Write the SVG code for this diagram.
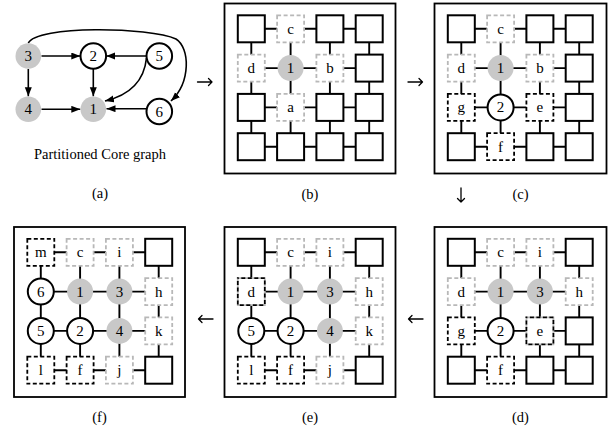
<svg xmlns="http://www.w3.org/2000/svg" xmlns:xlink="http://www.w3.org/1999/xlink" width="611" height="430" viewBox="0 0 611 430">
<style>
.frame{fill:none;stroke:#000;stroke-width:1.8}
.sq{fill:#fff;stroke:#000;stroke-width:2}
.gd{fill:#fff;stroke:#b8b8b8;stroke-width:1.8;stroke-dasharray:4 2.5}
.bd{fill:#fff;stroke:#000;stroke-width:1.8;stroke-dasharray:4 2.5}
.bdo{fill:none;stroke:#000;stroke-width:1.8;stroke-dasharray:4 2.5;stroke-dashoffset:3}
.gc{fill:#c8c8c8}
.wc{fill:#fff;stroke:#000;stroke-width:2}
.mesh{fill:none;stroke:#000;stroke-width:1.9}
.edge{fill:none;stroke:#000;stroke-width:1.6}
.step{fill:none;stroke:#000;stroke-width:1.3;stroke-linecap:round;stroke-linejoin:round}
.t{font-family:"Liberation Serif","Times New Roman",serif;font-size:15px;text-anchor:middle;fill:#000}
.cap{font-family:"Liberation Serif","Times New Roman",serif;font-size:14.5px;text-anchor:middle;fill:#000}
</style>
<defs>
<marker id="ah" markerUnits="userSpaceOnUse" markerWidth="10" markerHeight="8" refX="9" refY="3.5" orient="auto">
<path d="M0,0 L9,3.5 L0,7 z" fill="#000"/>
</marker>
<path id="meshp" class="mesh" d="M26.8,25.3H144.7M26.8,64.6H144.7M26.8,103.9H144.7M26.8,143.2H144.7M26.8,25.3V143.2M66.1,25.3V143.2M105.4,25.3V143.2M144.7,25.3V143.2"/>
<rect id="s" class="sq" width="27" height="27"/>
</defs>
<rect width="611" height="430" fill="#fff"/>

<g id="frames">
<rect class="frame" x="224.5" y="3.5" width="171" height="170"/>
<rect class="frame" x="434.5" y="3.5" width="172" height="170"/>
<rect class="frame" x="434.5" y="227" width="172" height="170"/>
<rect class="frame" x="224.5" y="227" width="171" height="170"/>
<rect class="frame" x="14" y="227" width="171" height="170"/>
</g>

<g id="connectors">
<use xlink:href="#meshp" transform="translate(224.5,3.5)"/>
<use xlink:href="#meshp" transform="translate(434.5,3.5)"/>
<use xlink:href="#meshp" transform="translate(434.5,227)"/>
<use xlink:href="#meshp" transform="translate(224.5,227)"/>
<use xlink:href="#meshp" transform="translate(14,227)"/>
<path class="edge" marker-end="url(#ah)" d="M41.5,56 L80.3,56"/>
<path class="edge" marker-end="url(#ah)" d="M146.3,56 L106.3,56"/>
<path class="edge" marker-end="url(#ah)" d="M93.3,69 L93.3,96.3"/>
<path class="edge" marker-end="url(#ah)" d="M28.3,69 L28.3,96.3"/>
<path class="edge" marker-end="url(#ah)" d="M41.5,109.3 L80.3,109.3"/>
<path class="edge" marker-end="url(#ah)" d="M146.5,108.7 L106.5,108.7"/>
<path class="edge" marker-end="url(#ah)" d="M146.5,58 Q143,92 105,101"/>
<path class="edge" marker-end="url(#ah)" d="M28.3,43.2 C36,25 150,27 176,39 C190,48 191,82 171,101"/>
<path class="step" d="M197.5,82 H212 M208.5,78.5 L212,82 L208.5,85.5"/>
<path class="step" d="M408,82 H422.5 M419,78.5 L422.5,82 L419,85.5"/>
<path class="step" d="M461,188 V202 M457.5,198.5 L461,202 L464.5,198.5"/>
<path class="step" d="M423,319 H408.5 M412,315.5 L408.5,319 L412,322.5"/>
<path class="step" d="M213,319 H198.5 M202,315.5 L198.5,319 L202,322.5"/>
</g>

<g id="graph-a">
<g id="a3"><circle class="gc" cx="28.3" cy="56" r="12.8"/><text class="t" x="28.3" y="61">3</text></g>
<g id="a2"><circle class="wc" cx="93.3" cy="56" r="12.8"/><text class="t" x="93.3" y="61">2</text></g>
<g id="a5"><circle class="wc" cx="159.3" cy="56" r="12.8"/><text class="t" x="159.3" y="61">5</text></g>
<g id="a4"><circle class="gc" cx="28.3" cy="109.3" r="12.8"/><text class="t" x="28.3" y="114.3">4</text></g>
<g id="a1"><circle class="gc" cx="93.3" cy="109.3" r="12.8"/><text class="t" x="93.3" y="114.3">1</text></g>
<g id="a6"><circle class="wc" cx="159.3" cy="111.5" r="12.8"/><text class="t" x="159.3" y="116.5">6</text></g>
<text class="cap" x="100" y="159">Partitioned Core graph</text>
</g>

<g id="panel-b" transform="translate(224.5,3.5)">
<use xlink:href="#s" x="13.3" y="11.8"/>
<g id="b-c"><rect class="gd" x="52.6" y="11.8" width="27" height="27"/><text class="t" x="66.1" y="30.3">c</text></g>
<use xlink:href="#s" x="91.9" y="11.8"/>
<use xlink:href="#s" x="131.2" y="11.8"/>
<g id="b-d"><rect class="gd" x="13.3" y="51.1" width="27" height="27"/><text class="t" x="26.8" y="69.6">d</text></g>
<g id="b-1"><circle class="gc" cx="66.1" cy="64.6" r="13"/><text class="t" x="66.1" y="69.6">1</text></g>
<g id="b-b"><rect class="gd" x="91.9" y="51.1" width="27" height="27"/><text class="t" x="105.4" y="69.6">b</text></g>
<use xlink:href="#s" x="131.2" y="51.1"/>
<use xlink:href="#s" x="13.3" y="90.4"/>
<g id="b-a"><rect class="gd" x="52.6" y="90.4" width="27" height="27"/><text class="t" x="66.1" y="108.9">a</text></g>
<use xlink:href="#s" x="91.9" y="90.4"/>
<use xlink:href="#s" x="131.2" y="90.4"/>
<use xlink:href="#s" x="13.3" y="129.7"/>
<use xlink:href="#s" x="52.6" y="129.7"/>
<use xlink:href="#s" x="91.9" y="129.7"/>
<use xlink:href="#s" x="131.2" y="129.7"/>
</g>

<g id="panel-c" transform="translate(434.5,3.5)">
<use xlink:href="#s" x="13.3" y="11.8"/>
<g id="c-c"><rect class="gd" x="52.6" y="11.8" width="27" height="27"/><text class="t" x="66.1" y="30.3">c</text></g>
<use xlink:href="#s" x="91.9" y="11.8"/>
<use xlink:href="#s" x="131.2" y="11.8"/>
<g id="c-d"><rect class="gd" x="13.3" y="51.1" width="27" height="27"/><text class="t" x="26.8" y="69.6">d</text></g>
<g id="c-1"><circle class="gc" cx="66.1" cy="64.6" r="13"/><text class="t" x="66.1" y="69.6">1</text></g>
<g id="c-b"><rect class="gd" x="91.9" y="51.1" width="27" height="27"/><text class="t" x="105.4" y="69.6">b</text></g>
<use xlink:href="#s" x="131.2" y="51.1"/>
<g id="c-g"><rect class="bd" x="13.3" y="90.4" width="27" height="27"/><text class="t" x="26.8" y="108.9">g</text></g>
<g id="c-2"><circle class="wc" cx="66.1" cy="103.9" r="13"/><text class="t" x="66.1" y="108.9">2</text></g>
<g id="c-e"><rect class="bd" x="91.9" y="90.4" width="27" height="27"/><text class="t" x="105.4" y="108.9">e</text></g>
<use xlink:href="#s" x="131.2" y="90.4"/>
<use xlink:href="#s" x="13.3" y="129.7"/>
<g id="c-f"><rect class="bd" x="52.6" y="129.7" width="27" height="27"/><text class="t" x="66.1" y="148.2">f</text></g>
<use xlink:href="#s" x="91.9" y="129.7"/>
<use xlink:href="#s" x="131.2" y="129.7"/>
</g>

<g id="panel-d" transform="translate(434.5,227)">
<use xlink:href="#s" x="13.3" y="11.8"/>
<g id="d-c"><rect class="gd" x="52.6" y="11.8" width="27" height="27"/><text class="t" x="66.1" y="30.3">c</text></g>
<g id="d-i"><rect class="gd" x="91.9" y="11.8" width="27" height="27"/><text class="t" x="105.4" y="30.3">i</text></g>
<use xlink:href="#s" x="131.2" y="11.8"/>
<g id="d-d"><rect class="gd" x="13.3" y="51.1" width="27" height="27"/><text class="t" x="26.8" y="69.6">d</text></g>
<g id="d-1"><circle class="gc" cx="66.1" cy="64.6" r="13"/><text class="t" x="66.1" y="69.6">1</text></g>
<g id="d-3"><circle class="gc" cx="105.4" cy="64.6" r="13"/><text class="t" x="105.4" y="69.6">3</text></g>
<g id="d-h"><rect class="gd" x="131.2" y="51.1" width="27" height="27"/><text class="t" x="144.7" y="69.6">h</text></g>
<g id="d-g"><rect class="bd" x="13.3" y="90.4" width="27" height="27"/><text class="t" x="26.8" y="108.9">g</text></g>
<g id="d-2"><circle class="wc" cx="66.1" cy="103.9" r="13"/><text class="t" x="66.1" y="108.9">2</text></g>
<g id="d-e"><rect class="gd" x="91.9" y="90.4" width="27" height="27"/><rect class="bdo" x="91.9" y="90.4" width="27" height="27"/><text class="t" x="105.4" y="108.9">e</text></g>
<use xlink:href="#s" x="131.2" y="90.4"/>
<use xlink:href="#s" x="13.3" y="129.7"/>
<g id="d-f"><rect class="bd" x="52.6" y="129.7" width="27" height="27"/><text class="t" x="66.1" y="148.2">f</text></g>
<use xlink:href="#s" x="91.9" y="129.7"/>
<use xlink:href="#s" x="131.2" y="129.7"/>
</g>

<g id="panel-e" transform="translate(224.5,227)">
<use xlink:href="#s" x="13.3" y="11.8"/>
<g id="e-c"><rect class="gd" x="52.6" y="11.8" width="27" height="27"/><text class="t" x="66.1" y="30.3">c</text></g>
<g id="e-i"><rect class="gd" x="91.9" y="11.8" width="27" height="27"/><text class="t" x="105.4" y="30.3">i</text></g>
<use xlink:href="#s" x="131.2" y="11.8"/>
<g id="e-d"><rect class="gd" x="13.3" y="51.1" width="27" height="27"/><rect class="bdo" x="13.3" y="51.1" width="27" height="27"/><text class="t" x="26.8" y="69.6">d</text></g>
<g id="e-1"><circle class="gc" cx="66.1" cy="64.6" r="13"/><text class="t" x="66.1" y="69.6">1</text></g>
<g id="e-3"><circle class="gc" cx="105.4" cy="64.6" r="13"/><text class="t" x="105.4" y="69.6">3</text></g>
<g id="e-h"><rect class="gd" x="131.2" y="51.1" width="27" height="27"/><text class="t" x="144.7" y="69.6">h</text></g>
<g id="e-5"><circle class="wc" cx="26.8" cy="103.9" r="13"/><text class="t" x="26.8" y="108.9">5</text></g>
<g id="e-2"><circle class="wc" cx="66.1" cy="103.9" r="13"/><text class="t" x="66.1" y="108.9">2</text></g>
<g id="e-4"><circle class="gc" cx="105.4" cy="103.9" r="13"/><text class="t" x="105.4" y="108.9">4</text></g>
<g id="e-k"><rect class="gd" x="131.2" y="90.4" width="27" height="27"/><text class="t" x="144.7" y="108.9">k</text></g>
<g id="e-l"><rect class="bd" x="13.3" y="129.7" width="27" height="27"/><text class="t" x="26.8" y="148.2">l</text></g>
<g id="e-f"><rect class="bd" x="52.6" y="129.7" width="27" height="27"/><text class="t" x="66.1" y="148.2">f</text></g>
<g id="e-j"><rect class="gd" x="91.9" y="129.7" width="27" height="27"/><text class="t" x="105.4" y="148.2">j</text></g>
<use xlink:href="#s" x="131.2" y="129.7"/>
</g>

<g id="panel-f" transform="translate(14,227)">
<g id="f-m"><rect class="bd" x="13.3" y="11.8" width="27" height="27"/><text class="t" x="26.8" y="30.3">m</text></g>
<g id="f-c"><rect class="gd" x="52.6" y="11.8" width="27" height="27"/><text class="t" x="66.1" y="30.3">c</text></g>
<g id="f-i"><rect class="gd" x="91.9" y="11.8" width="27" height="27"/><text class="t" x="105.4" y="30.3">i</text></g>
<use xlink:href="#s" x="131.2" y="11.8"/>
<g id="f-6"><circle class="wc" cx="26.8" cy="64.6" r="13"/><text class="t" x="26.8" y="69.6">6</text></g>
<g id="f-1"><circle class="gc" cx="66.1" cy="64.6" r="13"/><text class="t" x="66.1" y="69.6">1</text></g>
<g id="f-3"><circle class="gc" cx="105.4" cy="64.6" r="13"/><text class="t" x="105.4" y="69.6">3</text></g>
<g id="f-h"><rect class="gd" x="131.2" y="51.1" width="27" height="27"/><text class="t" x="144.7" y="69.6">h</text></g>
<g id="f-5"><circle class="wc" cx="26.8" cy="103.9" r="13"/><text class="t" x="26.8" y="108.9">5</text></g>
<g id="f-2"><circle class="wc" cx="66.1" cy="103.9" r="13"/><text class="t" x="66.1" y="108.9">2</text></g>
<g id="f-4"><circle class="gc" cx="105.4" cy="103.9" r="13"/><text class="t" x="105.4" y="108.9">4</text></g>
<g id="f-k"><rect class="gd" x="131.2" y="90.4" width="27" height="27"/><text class="t" x="144.7" y="108.9">k</text></g>
<g id="f-l"><rect class="bd" x="13.3" y="129.7" width="27" height="27"/><text class="t" x="26.8" y="148.2">l</text></g>
<g id="f-f"><rect class="bd" x="52.6" y="129.7" width="27" height="27"/><text class="t" x="66.1" y="148.2">f</text></g>
<g id="f-j"><rect class="gd" x="91.9" y="129.7" width="27" height="27"/><text class="t" x="105.4" y="148.2">j</text></g>
<use xlink:href="#s" x="131.2" y="129.7"/>
</g>

<g id="captions">
<text class="cap" x="100" y="198">(a)</text>
<text class="cap" x="310" y="199">(b)</text>
<text class="cap" x="520.5" y="199">(c)</text>
<text class="cap" x="520.5" y="422">(d)</text>
<text class="cap" x="310" y="422">(e)</text>
<text class="cap" x="99.5" y="422">(f)</text>
</g>
</svg>
